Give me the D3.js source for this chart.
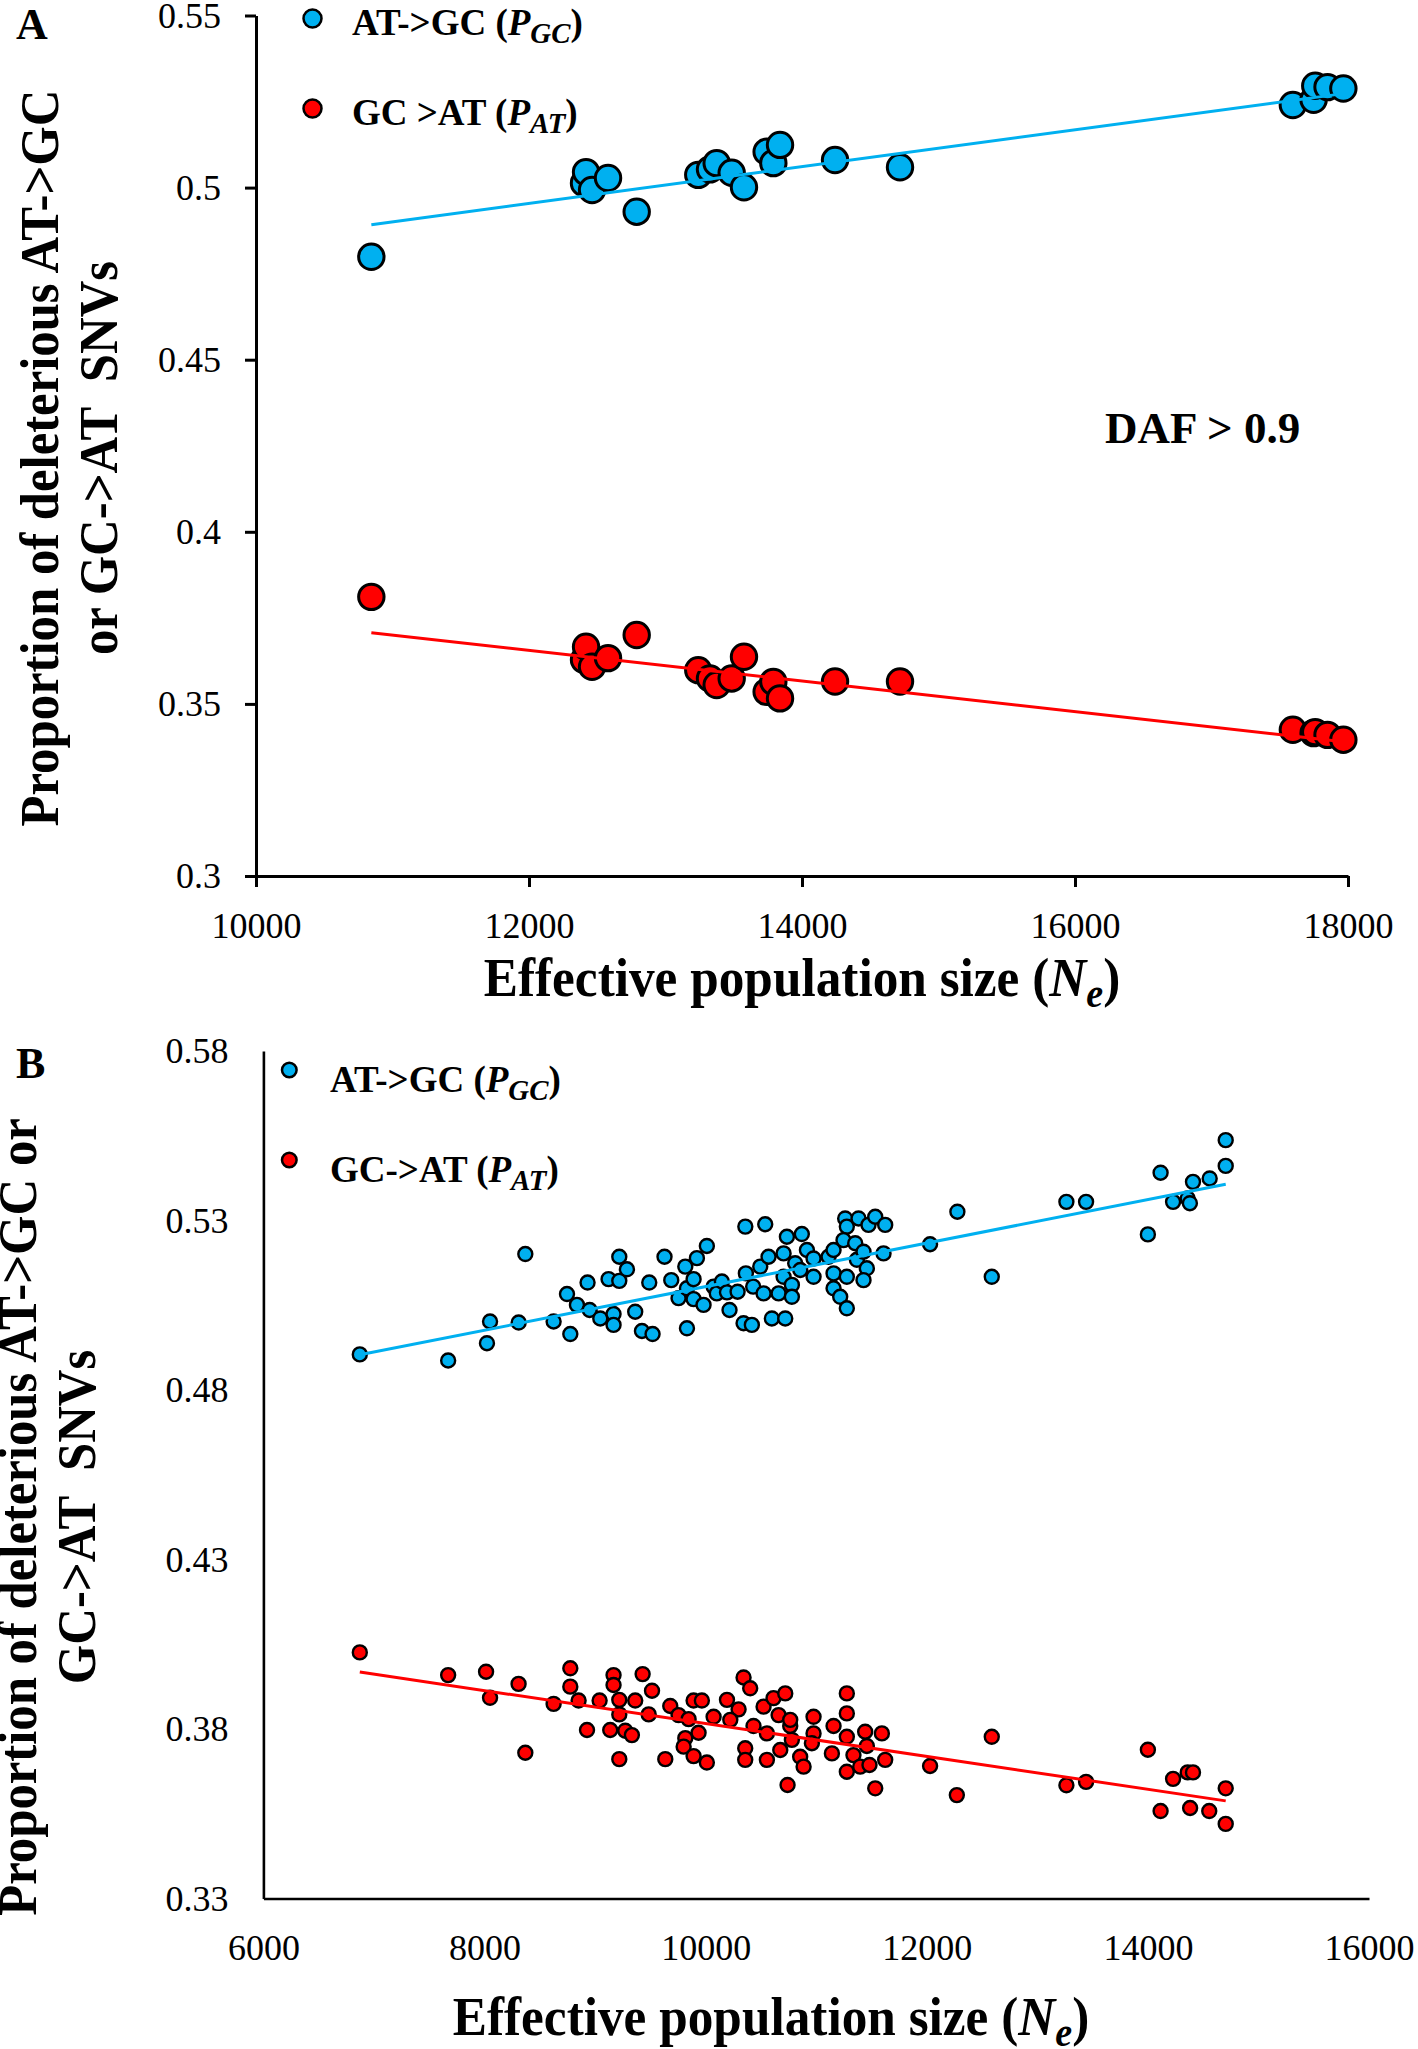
<!DOCTYPE html>
<html>
<head>
<meta charset="utf-8">
<script src="https://cdn.jsdelivr.net/npm/d3@7"></script>
<style>
body { margin: 0; background: #fff; }
svg { display: block; font-family: "Liberation Serif", "Times New Roman", serif; }
</style>
</head>
<body>
<div id="chart"></div>
<script>
// ---- Panel A data (DAF > 0.9) ----
const neA = [10845, 12403, 12418, 12462, 12579, 12789, 13240, 13326, 13375, 13485, 13575,
             13741, 13790, 13839, 14242, 14718, 17596, 17748, 17760, 17850, 17966];
const pGC_A = [0.4799, 0.5013, 0.5045, 0.4993, 0.5028, 0.4930, 0.5037, 0.5053, 0.5071, 0.5043, 0.5001,
               0.5104, 0.5071, 0.5124, 0.5080, 0.5059, 0.5240, 0.5255, 0.5296, 0.5292, 0.5288];
const pAT_A = [0.3811, 0.3628, 0.3666, 0.3608, 0.3633, 0.3700, 0.3598, 0.3574, 0.3555, 0.3574, 0.3637,
               0.3535, 0.3564, 0.3516, 0.3565, 0.3565, 0.3425, 0.3415, 0.3418, 0.3410, 0.3396];
const fitA_GC = [[10845, 0.4892], [17966, 0.5273]];
const fitA_AT = [[10845, 0.3707], [17966, 0.3390]];
const xTicksA = [10000, 12000, 14000, 16000, 18000];
const yTicksA = [0.3, 0.35, 0.4, 0.45, 0.5, 0.55];

// ---- Panel B data ----
const gcB = [
  [6872, 0.4905], [7671, 0.4887], [8022, 0.4938], [8050, 0.5002], [8309, 0.4999], [8369, 0.5201],
  [8625, 0.5002], [8776, 0.4965], [8746, 0.5083], [8836, 0.5051], [8932, 0.5117], [8951, 0.5036],
  [9047, 0.5011], [9167, 0.5024], [9167, 0.4992], [9122, 0.5127], [9219, 0.5193], [9219, 0.5122],
  [9288, 0.5156], [9363, 0.5031], [9424, 0.4974], [9520, 0.4965], [9490, 0.5117], [9628, 0.5193],
  [9689, 0.5124], [9755, 0.5071], [9816, 0.5164], [9831, 0.4982], [9831, 0.5100], [9891, 0.5127],
  [9921, 0.5189], [10011, 0.5225], [9891, 0.5068], [9981, 0.5051], [10072, 0.5105], [10101, 0.5085],
  [10147, 0.5120], [10193, 0.5088], [10216, 0.5036], [10289, 0.5090], [10359, 0.5282], [10539, 0.5289],
  [10343, 0.4997], [10418, 0.4992], [10364, 0.5144], [10430, 0.5105], [10494, 0.5164], [10569, 0.5193],
  [10524, 0.5085], [10599, 0.5011], [10720, 0.5011], [10660, 0.5085], [10705, 0.5134], [10705, 0.5203],
  [10735, 0.5252], [10870, 0.5260], [10780, 0.5110], [10780, 0.5075], [10810, 0.5174], [10856, 0.5154],
  [10916, 0.5213], [10976, 0.5188], [10976, 0.5134], [11112, 0.5193], [11157, 0.5213], [11157, 0.5144],
  [11157, 0.5100], [11217, 0.5075], [11277, 0.5041], [11277, 0.5134], [11262, 0.5306], [11277, 0.5282],
  [11247, 0.5242], [11353, 0.5233], [11368, 0.5184], [11383, 0.5306], [11473, 0.5287], [11534, 0.5311],
  [11624, 0.5287], [11428, 0.5208], [11458, 0.5159], [11428, 0.5124], [11609, 0.5203], [12030, 0.5230],
  [12277, 0.5326], [12588, 0.5134], [13263, 0.5355], [13441, 0.5355], [14000, 0.5259], [14115, 0.5441],
  [14228, 0.5355], [14360, 0.5365], [14380, 0.5351], [14408, 0.5414], [14559, 0.5424], [14704, 0.5461],
  [14704, 0.5537]
];
const atB = [
  [6872, 0.4026], [7671, 0.3959], [8014, 0.3969], [8050, 0.3892], [8308, 0.3933], [8369, 0.3730],
  [8625, 0.3874], [8776, 0.3979], [8776, 0.3925], [8851, 0.3884], [8927, 0.3797], [9041, 0.3884],
  [9167, 0.3959], [9167, 0.3930], [9219, 0.3886], [9219, 0.3843], [9137, 0.3797], [9273, 0.3795],
  [9333, 0.3782], [9219, 0.3711], [9363, 0.3884], [9430, 0.3962], [9515, 0.3913], [9485, 0.3843],
  [9635, 0.3711], [9680, 0.3868], [9755, 0.3841], [9846, 0.3829], [9891, 0.3884], [9966, 0.3884],
  [9936, 0.3789], [9816, 0.3773], [9801, 0.3748], [9891, 0.3720], [10011, 0.3701], [10072, 0.3836],
  [10193, 0.3886], [10298, 0.3858], [10223, 0.3827], [10343, 0.3952], [10403, 0.3920], [10358, 0.3743],
  [10358, 0.3709], [10433, 0.3809], [10524, 0.3866], [10554, 0.3787], [10554, 0.3709], [10614, 0.3891],
  [10720, 0.3905], [10660, 0.3841], [10765, 0.3809], [10765, 0.3827], [10780, 0.3768], [10675, 0.3738],
  [10855, 0.3718], [10886, 0.3689], [10741, 0.3635], [10976, 0.3836], [10976, 0.3787], [10961, 0.3758],
  [11157, 0.3809], [11142, 0.3728], [11277, 0.3905], [11277, 0.3846], [11277, 0.3777], [11277, 0.3674],
  [11337, 0.3723], [11398, 0.3689], [11443, 0.3792], [11458, 0.3750], [11482, 0.3694], [11534, 0.3625],
  [11594, 0.3787], [11624, 0.3709], [12030, 0.3691], [12272, 0.3605], [12588, 0.3777], [13263, 0.3634],
  [13441, 0.3644], [14000, 0.3739], [14115, 0.3558], [14228, 0.3653], [14360, 0.3672], [14408, 0.3672],
  [14382, 0.3567], [14555, 0.3558], [14704, 0.3625], [14704, 0.3520]
];
const fitB_GC = [[6872, 0.4904], [14704, 0.5407]];
const fitB_AT = [[6872, 0.3968], [14704, 0.3588]];
const xTicksB = [6000, 8000, 10000, 12000, 14000, 16000];
const yTicksB = [0.33, 0.38, 0.43, 0.48, 0.53, 0.58];

const width = 1418, height = 2049;
const BLUE = "#00b0f0", RED = "#ff0000";
const FONT = '"Liberation Serif", "Times New Roman", serif';

const svg = d3.select("#chart")
    .append("svg")
    .attr("width", width)
    .attr("height", height);

svg.append("rect").attr("width", width).attr("height", height).attr("fill", "#fff");

function drawPanel(p) {
    const g = svg.append("g");
    const x = d3.scaleLinear().domain(p.xDomain).range(p.xRange);
    const y = d3.scaleLinear().domain(p.yDomain).range(p.yRange);

    // axes
    const xAxis = d3.axisBottom(x).tickValues(p.xTicks).tickFormat(d => String(d))
        .tickSize(p.tick).tickSizeOuter(0).tickPadding(p.xPad);
    const yAxis = d3.axisLeft(y).tickValues(p.yTicks).tickFormat(d => String(d))
        .tickSize(p.tick).tickSizeOuter(0).tickPadding(p.yPad);

    [[xAxis, `translate(0,${p.yRange[0]})`], [yAxis, `translate(${p.xRange[0]},0)`]].forEach(([ax, tr]) => {
        g.append("g")
            .attr("transform", tr)
            .call(ax)
            .attr("font-size", null)
            .attr("font-family", FONT)
            .call(a => a.select(".domain").attr("stroke", "#000").attr("stroke-width", p.axisW))
            .call(a => a.selectAll(".tick line").attr("stroke", "#000").attr("stroke-width", p.axisW))
            .call(a => a.selectAll(".tick text").attr("font-size", 36).attr("fill", "#000"));
    });

    // points
    const series = [
        { pts: p.gc, color: BLUE },
        { pts: p.at, color: RED }
    ];
    series.forEach(s => {
        g.append("g").selectAll("circle")
            .data(s.pts)
            .join("circle")
            .attr("cx", d => x(d[0]))
            .attr("cy", d => y(d[1]))
            .attr("r", p.r)
            .attr("fill", s.color)
            .attr("stroke", "#000")
            .attr("stroke-width", p.rw);
    });

    // trend lines
    const line = d3.line().x(d => x(d[0])).y(d => y(d[1]));
    [[p.fitGC, BLUE], [p.fitAT, RED]].forEach(([f, c]) => {
        g.append("path").attr("d", line(f)).attr("fill", "none")
            .attr("stroke", c).attr("stroke-width", 3);
    });

    // panel letter
    g.append("text").attr("x", 16).attr("y", p.letterY)
        .attr("font-size", 44).attr("font-weight", "bold").text(p.letter);

    // legend
    p.legend.forEach(l => {
        g.append("circle").attr("cx", l.cx).attr("cy", l.cy).attr("r", p.legR)
            .attr("fill", l.color).attr("stroke", "#000").attr("stroke-width", 2.5);
        const t = g.append("text").attr("x", l.tx).attr("y", l.ty)
            .attr("font-size", p.legSize).attr("font-weight", "bold")
            .style("white-space", "pre");
        t.append("tspan").text(l.label + " (");
        t.append("tspan").attr("font-style", "italic").text("P");
        t.append("tspan").attr("font-style", "italic").attr("font-size", p.legSize * 0.78)
            .attr("dy", p.legSize * 0.22).text(l.sub);
        t.append("tspan").attr("dy", -p.legSize * 0.22).text(")");
    });

    // x title
    const xt = g.append("text")
        .attr("transform", `translate(${p.xTitle[0]},${p.xTitle[1]}) scale(0.95,1)`)
        .attr("text-anchor", "middle").attr("font-size", 54).attr("font-weight", "bold");
    xt.append("tspan").text("Effective population size (");
    xt.append("tspan").attr("font-style", "italic").text("N");
    xt.append("tspan").attr("font-style", "italic").attr("font-size", 40).attr("dy", 11).text("e");
    xt.append("tspan").attr("dy", -11).text(")");

    // y title (two lines)
    p.yTitle.forEach(t => {
        g.append("text")
            .attr("transform", `translate(${t.x},${p.yTitleY}) rotate(-90) scale(0.94,1)`)
            .attr("text-anchor", "middle").attr("font-size", 54).attr("font-weight", "bold")
            .style("white-space", "pre")
            .text(t.text);
    });

    return g;
}

const gA = drawPanel({
    xDomain: [10000, 18000], xRange: [256, 1348],
    yDomain: [0.3, 0.55], yRange: [876, 15.5],
    xTicks: xTicksA, yTicks: yTicksA,
    tick: 11, xPad: 25, yPad: 24, axisW: 3,
    gc: neA.map((n, i) => [n, pGC_A[i]]),
    at: neA.map((n, i) => [n, pAT_A[i]]),
    fitGC: fitA_GC, fitAT: fitA_AT,
    r: 12.7, rw: 3,
    letter: "A", letterY: 39,
    legR: 9, legSize: 37,
    legend: [
        { cx: 312.5, cy: 18.5, tx: 352, ty: 35, color: BLUE, label: "AT->GC", sub: "GC" },
        { cx: 312.5, cy: 108.5, tx: 352, ty: 125, color: RED, label: "GC >AT", sub: "AT" }
    ],
    xTitle: [802, 996],
    yTitleY: 458,
    yTitle: [
        { x: 58, text: "Proportion of deleterious AT->GC" },
        { x: 117, text: "or GC->AT  SNVs" }
    ]
});

gA.append("text").attr("x", 1105).attr("y", 443)
    .attr("font-size", 45).attr("font-weight", "bold").text("DAF > 0.9");

drawPanel({
    xDomain: [6000, 16000], xRange: [263.4, 1369],
    yDomain: [0.33, 0.58], yRange: [1898.5, 1051],
    xTicks: xTicksB, yTicks: yTicksB,
    tick: 0, xPad: 36, yPad: 35, axisW: 2.6,
    gc: gcB, at: atB,
    fitGC: fitB_GC, fitAT: fitB_AT,
    r: 7, rw: 2.4,
    letter: "B", letterY: 1078,
    legR: 7.3, legSize: 37,
    legend: [
        { cx: 289.3, cy: 1070, tx: 330, ty: 1092, color: BLUE, label: "AT->GC", sub: "GC" },
        { cx: 289.3, cy: 1160, tx: 330, ty: 1182, color: RED, label: "GC->AT", sub: "AT" }
    ],
    xTitle: [771, 2035],
    yTitleY: 1517,
    yTitle: [
        { x: 36, text: "Proportion of deleterious AT->GC or" },
        { x: 95, text: "GC->AT  SNVs" }
    ]
});
</script>
</body>
</html>
